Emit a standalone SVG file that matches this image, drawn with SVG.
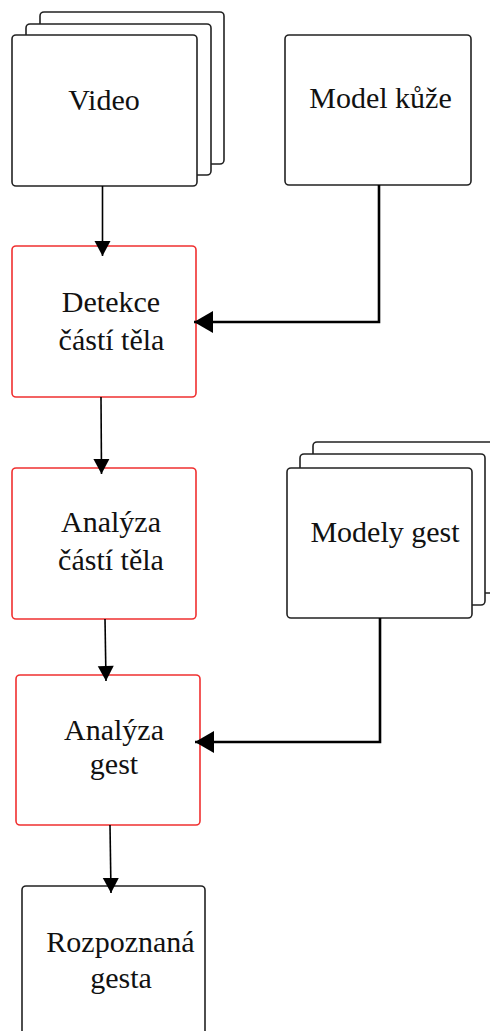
<svg xmlns="http://www.w3.org/2000/svg" width="490" height="1031" viewBox="0 0 490 1031">
<defs>
<style>
.box{fill:#fff;stroke:#222;stroke-width:1.6}
.red{fill:#fff;stroke:#f03030;stroke-width:1.6}
.t{font-family:"Liberation Serif","Times New Roman",serif;font-size:30px;fill:#111;text-anchor:middle}
.thin{fill:none;stroke:#000;stroke-width:1.6}
.thick{fill:none;stroke:#000;stroke-width:2.6}
</style>
<marker id="arrS" markerUnits="userSpaceOnUse" markerWidth="16" markerHeight="16" refX="15" refY="8" orient="auto" overflow="visible">
<path d="M0,0 L15,8 L0,16 z" fill="#000"/>
</marker>
<marker id="arrL" markerUnits="userSpaceOnUse" markerWidth="20" markerHeight="22" refX="19" refY="11" orient="auto" overflow="visible">
<path d="M0,0 L19,11 L0,22 z" fill="#000"/>
</marker>
</defs>
<rect width="490" height="1031" fill="#fff"/>
<g id="video">
<rect class="box" x="40" y="12" width="184" height="152" rx="4"/>
<rect class="box" x="26" y="24" width="185" height="151" rx="4"/>
<rect class="box" x="12" y="35" width="185" height="151" rx="4"/>
<text class="t" x="104" y="110">Video</text>
</g>
<g id="model-kuze">
<rect class="box" x="285" y="35" width="186" height="150" rx="4"/>
<text class="t" x="380.5" y="108">Model kůže</text>
</g>
<g id="detekce">
<rect class="red" x="12" y="246" width="184" height="151" rx="4"/>
<text class="t" x="111" y="312">Detekce</text>
<text class="t" x="111.5" y="350">částí těla</text>
</g>
<g id="analyza-casti">
<rect class="red" x="12" y="468" width="184" height="151" rx="4"/>
<text class="t" x="111" y="532">Analýza</text>
<text class="t" x="111" y="570">částí těla</text>
</g>
<g id="modely-gest">
<rect class="box" x="313" y="442" width="190" height="151" rx="4"/>
<rect class="box" x="300" y="454" width="185" height="151" rx="4"/>
<rect class="box" x="287" y="468" width="185" height="150" rx="4"/>
<text class="t" x="385" y="542">Modely gest</text>
</g>
<g id="analyza-gest">
<rect class="red" x="16" y="675" width="184" height="150" rx="4"/>
<text class="t" x="114" y="740">Analýza</text>
<text class="t" x="114" y="774">gest</text>
</g>
<g id="rozpoznana">
<rect class="box" x="22" y="886" width="183" height="160" rx="4"/>
<text class="t" x="120.5" y="952">Rozpoznaná</text>
<text class="t" x="121" y="988">gesta</text>
</g>
<g id="connectors">
<path class="thin" d="M102.5,186 L102.5,256" marker-end="url(#arrS)"/>
<path class="thick" d="M379,185 V322 H194" marker-end="url(#arrL)"/>
<path class="thin" d="M101,397 L101.5,474" marker-end="url(#arrS)"/>
<path class="thin" d="M105,619 L106,681" marker-end="url(#arrS)"/>
<path class="thick" d="M380,618 V742 H195" marker-end="url(#arrL)"/>
<path class="thin" d="M110,825 L111,893" marker-end="url(#arrS)"/>
</g>
</svg>
